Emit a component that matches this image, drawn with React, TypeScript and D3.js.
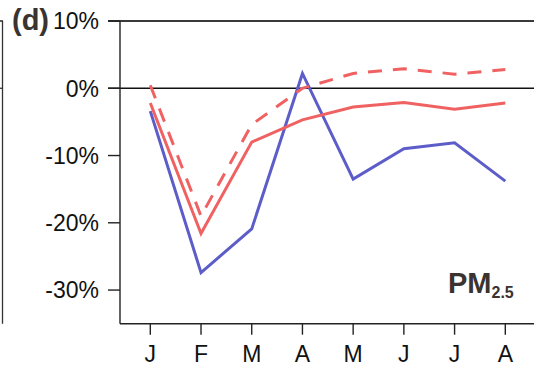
import React from "react";
import * as d3 from "d3";

const months = ["J", "F", "M", "A", "M", "J", "J", "A"];
const yTicks = [10, 0, -10, -20, -30];
// monthly change of PM2.5, in percent
const blueSeries = [-3.4, -27.4, -20.9, 2.2, -13.5, -9.0, -8.1, -13.8];
const redSolid = [-2.2, -21.6, -8.0, -4.7, -2.8, -2.1, -3.1, -2.2];
const redDashed = [0.45, -19.0, -5.4, 0.0, 2.2, 2.9, 2.1, 2.8];

const width = 534;
const height = 369;
const left = 120;
const top = 21;
const bottom = 323.7;

const BLUE = "#5d5dc9";
const RED = "#f06262";
const FONT = "Liberation Sans, Arial, Helvetica, sans-serif";

const App = () => {
  const x = d3
    .scalePoint<number>()
    .domain(d3.range(months.length))
    .range([150.3, 505.3]);
  const y = d3.scaleLinear().domain([-35, 10]).range([bottom, top]);

  const line = d3
    .line<number>()
    .x((_, i) => x(i) as number)
    .y((d) => y(d));

  return (
    <div style={{ position: "absolute", left: 0, top: 0 }}>
      <svg width={width} height={height} style={{ display: "block" }}>
        <rect width={width} height={height} fill="#fff" />

        {/* edge of the neighbouring panel */}
        <line x1={2.5} x2={2.5} y1={y(10)} y2={bottom} stroke="#333" strokeWidth={1.3} />
        <line x1={0} x2={3} y1={y(0)} y2={y(0)} stroke="#333" strokeWidth={1.3} />
        <line x1={0} x2={3} y1={y(10)} y2={y(10)} stroke="#333" strokeWidth={1.6} />

        {/* frame */}
        <line x1={left - 12} x2={width} y1={y(10)} y2={y(10)} stroke="#3a3a3a" strokeWidth={2} />
        <line x1={left - 12} x2={width} y1={y(0)} y2={y(0)} stroke="#111" strokeWidth={1.6} />
        <line x1={left} x2={left} y1={y(10)} y2={bottom} stroke="#222" strokeWidth={1.4} />
        <line x1={left} x2={width} y1={bottom} y2={bottom} stroke="#222" strokeWidth={1.4} />

        {yTicks.map((t) => (
          <g key={t}>
            <line x1={left - 12} x2={left} y1={y(t)} y2={y(t)} stroke="#222" strokeWidth={1.4} />
            <text
              x={99}
              y={y(t)}
              dy="0.36em"
              textAnchor="end"
              fontFamily={FONT}
              fontSize={23}
              fill="#111"
            >
              {t + "%"}
            </text>
          </g>
        ))}

        {months.map((m, i) => (
          <g key={i}>
            <line x1={x(i)} x2={x(i)} y1={bottom} y2={bottom + 11} stroke="#222" strokeWidth={1.4} />
            <text
              x={x(i)}
              y={361.7}
              textAnchor="middle"
              fontFamily={FONT}
              fontSize={23}
              fill="#111"
            >
              {m}
            </text>
          </g>
        ))}

        <path d={line(blueSeries) || ""} fill="none" stroke={BLUE} strokeWidth={3} strokeLinejoin="miter" />
        <path d={line(redSolid) || ""} fill="none" stroke={RED} strokeWidth={3} />
        <path
          d={line(redDashed) || ""}
          fill="none"
          stroke={RED}
          strokeWidth={3}
          strokeDasharray="14,11"
        />

        <text x={12} y={30} fontFamily={FONT} fontWeight="bold" fontSize={29} fill="#3a3330">
          (d)
        </text>
        <text x={448} y={293} fontFamily={FONT} fontWeight="bold" fontSize={29} fill="#3a3330">
          PM
          <tspan fontSize={16} dy={5}>
            2.5
          </tspan>
        </text>
      </svg>
    </div>
  );
};

export default App;
